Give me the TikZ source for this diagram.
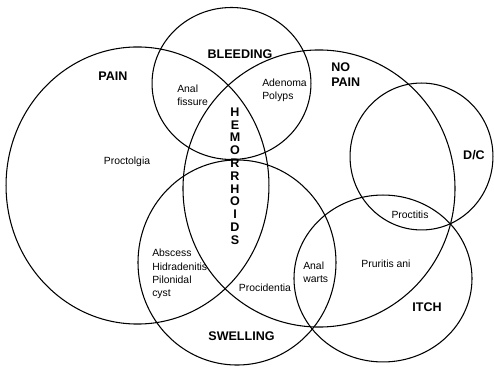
\documentclass[tikz,border=0pt]{standalone}
\usepackage{fontspec}
\setmainfont{Liberation Sans}
\begin{document}
\begin{tikzpicture}[x=0.75pt,y=-0.75pt,
  set/.style={draw=black,line width=0.8pt},
  big/.style={inner sep=0pt,font=\fontsize{9.4}{11.25}\selectfont\bfseries,align=left},
  small/.style={inner sep=0pt,font=\fontsize{7.8}{10}\selectfont,align=left},
  vert/.style={inner sep=0pt,font=\fontsize{9.4}{9.6}\selectfont\bfseries,align=center}]
\useasboundingbox (0,0) rectangle (494,367);
% sets
\draw[set] (137.5,185.5) ellipse [x radius=98.6pt, y radius=103.9pt];
\draw[set] (231.5,83.5) ellipse [x radius=59.6pt, y radius=57pt];
\draw[set] (319,188.5) ellipse [x radius=102pt, y radius=103.9pt];
\draw[set] (421.5,156.5) ellipse [x radius=53.6pt, y radius=55.1pt];
\draw[set] (237,262.5) ellipse [x radius=74.25pt, y radius=76.9pt];
\draw[set] (383,278.5) ellipse [x radius=66.75pt, y radius=62.6pt];
% set labels
\node[big] (pain) at (113,76) {PAIN};
\node[big] (bleeding) at (240,54) {BLEEDING};
\node[big,anchor=west] (nopain) at (331,74.5) {NO\\PAIN};
\node[big] (dc) at (474,155) {D/C};
\node[big] (swelling) at (241.5,336) {SWELLING};
\node[big] (itch) at (427,307) {ITCH};
\node[vert] (hem) at (235,176) {H\\E\\M\\O\\R\\R\\H\\O\\I\\D\\S};
% conditions
\node[small,anchor=west] (fissure) at (177,95) {Anal\\fissure};
\node[small,anchor=west] (adenoma) at (262,90) {Adenoma\\Polyps};
\node[small] (proctolgia) at (127,162) {Proctolgia};
\node[small,anchor=west,font=\fontsize{7.8}{10}\selectfont] (abscess) at (152,274) {Abscess\\Hidradenitis\\Pilonidal\\cyst};
\node[small] (procidentia) at (265,288) {Procidentia};
\node[small,anchor=west] (warts) at (303,272) {Anal\\warts};
\node[small] (pruritis) at (386,264) {Pruritis ani};
\node[small] (proctitis) at (410,215) {Proctitis};
\end{tikzpicture}
\end{document}
